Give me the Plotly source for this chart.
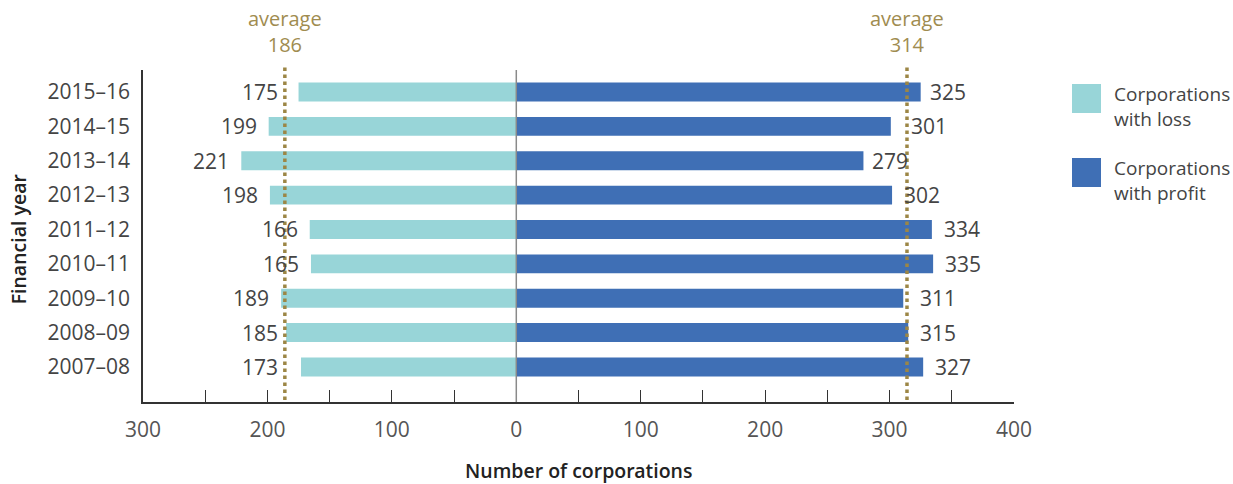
import plotly.graph_objects as go

# Financial years, bottom to top
years = ["2007–08", "2008–09", "2009–10", "2010–11", "2011–12",
         "2012–13", "2013–14", "2014–15", "2015–16"]
loss = [173, 185, 189, 165, 166, 198, 221, 199, 175]
profit = [327, 315, 311, 335, 334, 302, 279, 301, 325]

avg_loss = 186
avg_profit = 314

x_ticks = [-300, -250, -200, -150, -100, -50, 0, 50, 100, 150, 200, 250, 300, 350, 400]
x_tick_text = ["300", "", "200", "", "100", "", "0", "", "100", "", "200", "", "300", "", "400"]

LOSS_COLOR = "#98d5d8"
PROFIT_COLOR = "#3f6fb5"
AVG_COLOR = "#9c8645"
TEXT_COLOR = "#444444"
FONT = "Open Sans"
NUM_SIZE = 21

# gap in pixels between a bar end and its value label; a few labels are
# pushed clear of the average lines
DEFAULT_GAP = 12
loss_gap = {"2015–16": 21, "2007–08": 23, "2008–09": 8}
profit_gap = {"2014–15": 20, "2009–10": 17, "2013–14": 9, "2015–16": 9}

fig = go.Figure()
fig.add_trace(go.Bar(
    y=years, x=[-v for v in loss], orientation="h", width=0.55,
    marker=dict(color=LOSS_COLOR, line=dict(width=0)),
    name="Corporations with loss", showlegend=False,
))
fig.add_trace(go.Bar(
    y=years, x=profit, orientation="h", width=0.55,
    marker=dict(color=PROFIT_COLOR, line=dict(width=0)),
    name="Corporations with profit", showlegend=False,
))

annotations = []
# value labels beside each bar
for yr, v in zip(years, loss):
    annotations.append(dict(x=-v, y=yr, text=str(v), showarrow=False,
                            xanchor="right", xshift=-loss_gap.get(yr, DEFAULT_GAP) + 2,
                            yanchor="middle",
                            font=dict(size=NUM_SIZE, color=TEXT_COLOR, family=FONT)))
for yr, v in zip(years, profit):
    annotations.append(dict(x=v, y=yr, text=str(v), showarrow=False,
                            xanchor="left", xshift=profit_gap.get(yr, DEFAULT_GAP) - 2,
                            yanchor="middle",
                            font=dict(size=NUM_SIZE, color=TEXT_COLOR, family=FONT)))

# average markers
for xv, label in [(-avg_loss, avg_loss), (avg_profit, avg_profit)]:
    annotations.append(dict(x=xv, y=1.03, xref="x", yref="paper",
                            text=f"average<br>{label}", showarrow=False,
                            yanchor="bottom", align="center",
                            font=dict(size=20, color="#a08c50", family=FONT)))

# axis titles
annotations.append(dict(x=0.5, y=-0.205, xref="paper", yref="paper",
                        text="Number of corporations", showarrow=False,
                        yanchor="middle", xanchor="center",
                        font=dict(size=19.5, color="#222222", family="Open Sans SemiBold, Open Sans")))
annotations.append(dict(x=-0.1435, y=0.49, xref="paper", yref="paper",
                        text="Financial year", showarrow=False, textangle=-90,
                        xanchor="center", yanchor="middle",
                        font=dict(size=19.5, color="#222222", family="Open Sans SemiBold, Open Sans")))

# legend
legend_items = [("Corporations<br>with loss", LOSS_COLOR, 0.9578, 0.8705, 0.8886),
                ("Corporations<br>with profit", PROFIT_COLOR, 0.7349, 0.6476, 0.6672)]
shapes = []
for text, color, y0, y1, ym in legend_items:
    shapes.append(dict(type="rect", xref="paper", yref="paper",
                       x0=1.0666, x1=1.0999, y0=y1, y1=y0,
                       fillcolor=color, line=dict(width=0)))
    annotations.append(dict(x=1.1125, y=ym, xref="paper", yref="paper",
                            text=text, showarrow=False, xanchor="left",
                            yanchor="middle", align="left",
                            font=dict(size=19, color=TEXT_COLOR, family=FONT)))

# zero line
shapes.append(dict(type="line", xref="x", yref="paper", x0=0, x1=0, y0=0, y1=1,
                   line=dict(color="#8a8a8a", width=1.5), layer="above"))
# average lines
for xv in (-avg_loss, avg_profit):
    shapes.append(dict(type="line", xref="x", yref="paper", x0=xv, x1=xv,
                       y0=0.006, y1=1.015,
                       line=dict(color=AVG_COLOR, width=3.5, dash="dot"), layer="above"))

fig.update_layout(
    width=1233, height=484,
    margin=dict(l=143, r=219, t=70, b=82),
    paper_bgcolor="white", plot_bgcolor="white",
    barmode="relative", bargap=0.45,
    font=dict(family=FONT, size=19, color=TEXT_COLOR),
    xaxis=dict(range=[-300, 400], tickvals=x_ticks, ticktext=x_tick_text,
               ticks="inside", ticklen=12, tickcolor="#333333", tickwidth=1.2,
               showline=True, linecolor="#333333", linewidth=1.5,
               showgrid=False, zeroline=False, fixedrange=True,
               ticklabelstandoff=8,
               tickfont=dict(size=NUM_SIZE, color="#555555", family=FONT)),
    yaxis=dict(type="category", range=[-1.02, 8.64], showline=True,
               linecolor="#333333", linewidth=1.5,
               showgrid=False, zeroline=False, ticks="",
               ticklabelstandoff=7,
               tickfont=dict(size=NUM_SIZE, color="#444444", family=FONT)),
    shapes=shapes, annotations=annotations,
)

fig.write_html("out.html")
